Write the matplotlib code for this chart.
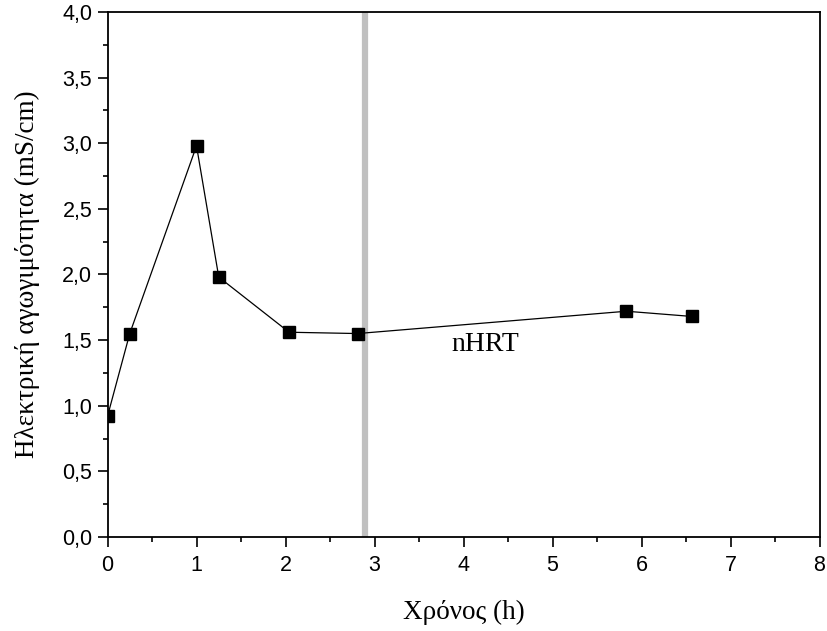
import matplotlib
matplotlib.use("Agg")
import matplotlib.pyplot as plt
from matplotlib.ticker import FuncFormatter, MultipleLocator

time_h = [0.0, 0.25, 1.0, 1.25, 2.04, 2.81, 5.83, 6.57]
conductivity = [0.92, 1.55, 2.98, 1.98, 1.56, 1.55, 1.72, 1.68]
hrt_time = 2.89
xlabel = "Χρόνος (h)"
ylabel = "Ηλεκτρική αγωγιμότητα (mS/cm)"
annot_text = "nHRT"

fig = plt.figure(figsize=(8.27, 6.31), dpi=100)
ax = fig.add_axes([0.1300, 0.149, 0.861, 0.832])

ax.axvline(hrt_time, color="#c0c0c0", linewidth=4.5, zorder=1)
ax.plot(time_h, conductivity, color="black", linewidth=0.9, marker="s",
        markersize=8.5, markerfacecolor="black", markeredgecolor="black", zorder=3)
ax.text(4.24, 1.47, annot_text, family="Liberation Serif", fontsize=20,
        ha="center", va="center")

ax.set_xlim(0, 8)
ax.set_ylim(0, 4)
ax.xaxis.set_major_locator(MultipleLocator(1))
ax.xaxis.set_minor_locator(MultipleLocator(0.5))
ax.yaxis.set_major_locator(MultipleLocator(0.5))
ax.yaxis.set_minor_locator(MultipleLocator(0.25))
ax.yaxis.set_major_formatter(FuncFormatter(lambda v, p: f"{v:.1f}".replace(".", ",")))
ax.xaxis.set_major_formatter(FuncFormatter(lambda v, p: f"{v:.0f}"))

ax.tick_params(which="both", direction="out", top=False, right=False,
               width=1.2, labelsize=15.5)
ax.tick_params(which="major", length=7)
ax.tick_params(which="minor", length=3.6)
ax.tick_params(axis="x", which="major", pad=6)
ax.tick_params(axis="y", which="major", pad=4)
for lab in ax.get_xticklabels() + ax.get_yticklabels():
    lab.set_family("Liberation Sans")
for s in ax.spines.values():
    s.set_linewidth(1.3)

ax.set_xlabel(xlabel, family="Liberation Serif", fontsize=19.5, va="center")
ax.set_ylabel(ylabel, family="Liberation Serif", fontsize=19.5, va="center")
ax.xaxis.set_label_coords(0.5, -0.143)
ax.yaxis.set_label_coords(-0.112, 0.5)

fig.savefig("out.png", dpi=100)
